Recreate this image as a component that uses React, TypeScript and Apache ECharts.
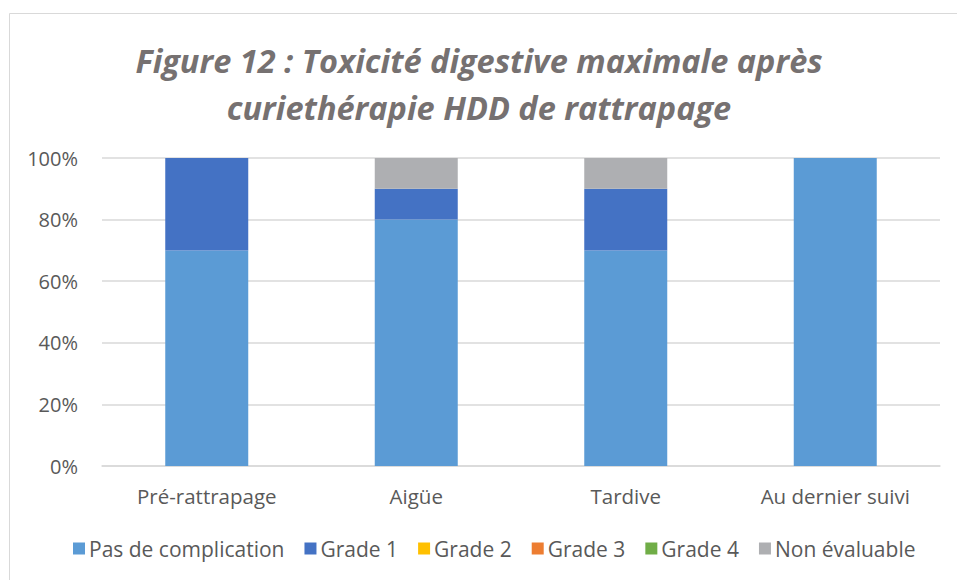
import React, { useEffect, useRef } from "react";
import * as echarts from "echarts";

const categories = ["Pré-rattrapage", "Aigüe", "Tardive", "Au dernier suivi"];
const seriesNames = ["Pas de complication", "Grade 1", "Grade 2", "Grade 3", "Grade 4", "Non évaluable"];
const pasDeComplication = [70, 80, 70, 100];
const grade1 = [30, 10, 20, 0];
const grade2 = [0, 0, 0, 0];
const grade3 = [0, 0, 0, 0];
const grade4 = [0, 0, 0, 0];
const nonEvaluable = [0, 10, 10, 0];
const colors = ["#5B9BD5", "#4472C4", "#FFC000", "#ED7D31", "#70AD47", "#AEAFB2"];

const FONT = "Open Sans";

export default function App() {
  const ref = useRef<HTMLDivElement>(null);
  useEffect(() => {
    if (!ref.current) return;
    const chart = echarts.init(ref.current, undefined, { renderer: "svg" });
    const values = [pasDeComplication, grade1, grade2, grade3, grade4, nonEvaluable];
    chart.setOption({
      animation: false,
      backgroundColor: "#FFFFFF",
      textStyle: { fontFamily: FONT },
      graphic: [
        {
          type: "rect",
          shape: { x: 9.5, y: 13.5, width: 1000, height: 700 },
          style: { fill: "none", stroke: "#D9D9D9", lineWidth: 1 },
          silent: true,
        },
      ],
      title: {
        text: "Figure 12 : Toxicité digestive maximale après\ncuriethérapie HDD de rattrapage",
        left: 474,
        top: 32,
        textAlign: "center",
        textStyle: {
          fontFamily: FONT,
          fontSize: 32.5,
          fontWeight: "bold",
          fontStyle: "italic",
          color: "#767171",
          lineHeight: 47,
        },
      },
      legend: {
        bottom: 16,
        left: 68,
        itemWidth: 12,
        itemHeight: 12,
        itemGap: 20,
        icon: "rect",
        data: seriesNames,
        textStyle: { fontFamily: FONT, fontSize: 21, color: "#595959", padding: [0, 0, 0, -1] },
      },
      grid: { left: 102, right: 17, top: 158, bottom: 114, containLabel: false },
      xAxis: {
        type: "category",
        data: categories,
        axisLine: { lineStyle: { color: "#D9D9D9", width: 1.5 } },
        axisTick: { show: false },
        axisLabel: { fontFamily: FONT, fontSize: 20.5, color: "#595959", margin: 19 },
      },
      yAxis: {
        type: "value",
        min: 0,
        max: 100,
        interval: 20,
        axisLabel: { formatter: "{value}%", fontFamily: FONT, fontSize: 20, color: "#595959", margin: 24 },
        splitLine: { lineStyle: { color: "#D9D9D9", width: 1.5 } },
        axisLine: { show: false },
        axisTick: { show: false },
      },
      series: seriesNames.map((name, i) => ({
        name,
        type: "bar",
        stack: "total",
        barWidth: 83,
        data: values[i],
        itemStyle: { color: colors[i] },
      })),
    });
    return () => chart.dispose();
  }, []);
  return <div ref={ref} style={{ width: 957, height: 580, position: "absolute", left: 0, top: 0 }} />;
}
